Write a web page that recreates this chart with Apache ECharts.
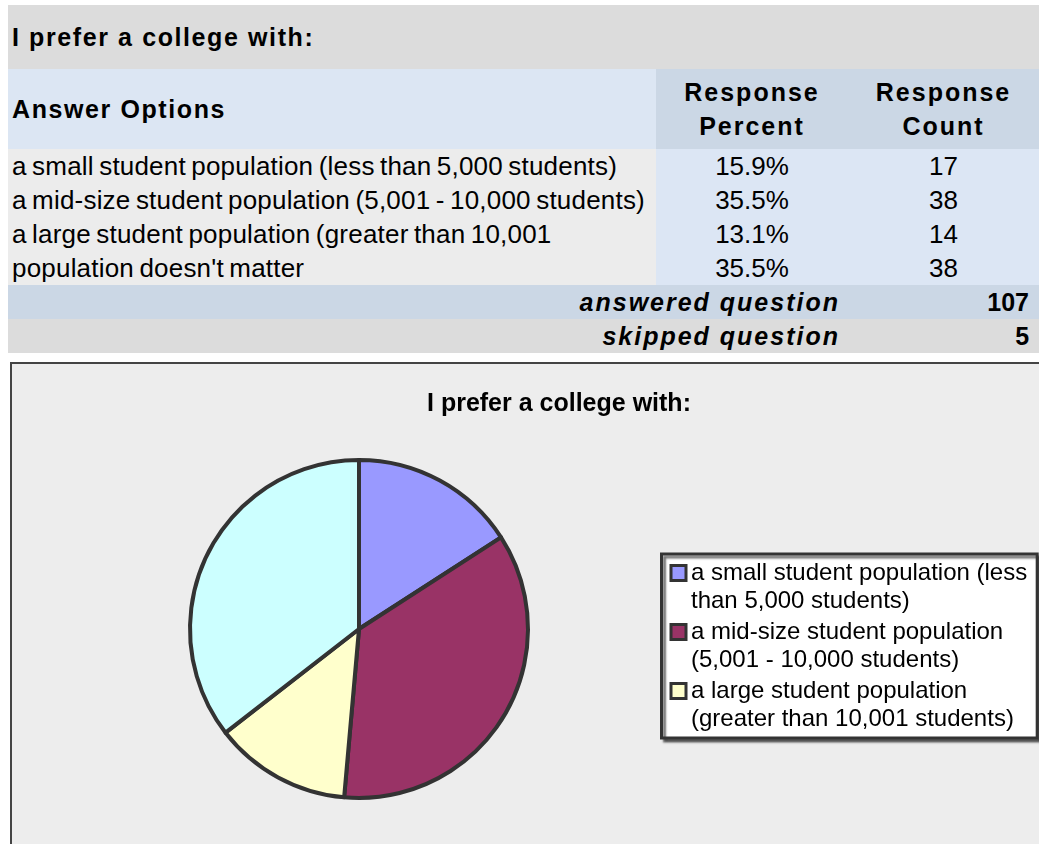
<!DOCTYPE html>
<html>
<head>
<meta charset="utf-8">
<script src="https://cdn.jsdelivr.net/npm/echarts@6/dist/echarts.min.js"></script>
<style>
  html, body { margin: 0; padding: 0; background: #ffffff; width: 1039px; height: 844px; overflow: hidden; }
  body { font-family: "Liberation Sans", Arial, sans-serif; color: #000; position: relative; }
  #survey { position: absolute; left: 8px; top: 5px; border-collapse: collapse; table-layout: fixed; width: 1031px; }
  #survey td { padding: 0; white-space: nowrap; overflow: hidden; }
  .qtitle { background: #dcdcdc; height: 64px; font-weight: bold; font-size: 25px; letter-spacing: 1.6px; padding-left: 4px !important; }
  .hdr1 { background: #dce6f3; height: 80px; font-weight: bold; font-size: 25px; letter-spacing: 1.6px; padding-left: 4px !important; }
  .hdr2 { background: #cbd7e5; font-weight: bold; font-size: 25px; letter-spacing: 2px; text-align: center; line-height: 34px; }
  .opt { background: #ececec; height: 34px; font-size: 26px; letter-spacing: 0.2px; word-spacing: -2px; padding-left: 4px !important; }
  .val { background: #dce6f4; font-size: 26px; text-align: center; }
  .sumlabel { font-weight: bold; font-style: italic; font-size: 25px; letter-spacing: 2px; text-align: right; padding-right: 8px !important; height: 34px; }
  .sumval { font-size: 25px; font-weight: bold; text-align: right; padding-right: 10px !important; }
  .answered td { background: #cbd7e5; }
  .skipped td { background: #dcdcdc; }
  #chartBox { position: absolute; left: 10px; top: 362px; width: 1040px; height: 480px;
              background: #ededed; border-left: 2px solid #444; border-top: 2px solid #444; border-bottom: 2px solid #aaa; }
  #chart { width: 1040px; height: 480px; }
</style>
</head>
<body>
<table id="survey"></table>
<div id="chartBox"><div id="chart"></div></div>
<script>
// Survey question and answer data
const question = 'I prefer a college with:';
const answerOptions = [
  'a small student population (less than 5,000 students)',
  'a mid-size student population (5,001 - 10,000 students)',
  'a large student population (greater than 10,001 students)',
  "population doesn't matter"
];
// Option text as it appears in the narrow table column
const tableLabels = [
  'a small student population (less than 5,000 students)',
  'a mid-size student population (5,001 - 10,000 students)',
  'a large student population (greater than 10,001',
  "population doesn't matter"
];
const responsePercent = ['15.9%', '35.5%', '13.1%', '35.5%'];
const responseCount = [17, 38, 14, 38];
const answeredQuestion = 107;
const skippedQuestion = 5;
const sliceColors = ['#9999ff', '#993366', '#ffffcc', '#ccffff'];
const legendCount = 3; // the legend box only has room for the first three options

// ---- Response table ----
const table = document.getElementById('survey');
let html = '<colgroup><col style="width:648px"><col style="width:192px"><col style="width:191px"></colgroup>';
html += '<tr><td class="qtitle" colspan="3">' + question + '</td></tr>';
html += '<tr><td class="hdr1">Answer Options</td><td class="hdr2">Response<br>Percent</td><td class="hdr2">Response<br>Count</td></tr>';
tableLabels.forEach(function (label, i) {
  html += '<tr><td class="opt">' + label + '</td><td class="val">' + responsePercent[i] +
          '</td><td class="val">' + responseCount[i] + '</td></tr>';
});
html += '<tr class="answered"><td class="sumlabel" colspan="2">answered question</td><td class="sumval">' + answeredQuestion + '</td></tr>';
html += '<tr class="skipped"><td class="sumlabel" colspan="2">skipped question</td><td class="sumval">' + skippedQuestion + '</td></tr>';
table.innerHTML = html;

// ---- Pie chart ----
const legendFont = '24px "Liberation Sans", Arial, sans-serif';
const measureCtx = document.createElement('canvas').getContext('2d');
measureCtx.font = legendFont;
function wrapWords(text, maxWidth) {
  const words = text.split(' ');
  const lines = [];
  let line = '';
  words.forEach(function (w) {
    const test = line ? line + ' ' + w : w;
    if (line && measureCtx.measureText(test).width > maxWidth) {
      lines.push(line);
      line = w;
    } else {
      line = test;
    }
  });
  if (line) lines.push(line);
  return lines;
}

const rich = {
  t: { fontSize: 24, lineHeight: 28, color: '#000', fontFamily: '"Liberation Sans", Arial, sans-serif' },
  sp: { width: 18.5, height: 10 }
};
sliceColors.forEach(function (c, i) {
  rich['m' + i] = { width: 12, height: 12, backgroundColor: c, borderColor: '#333', borderWidth: 3, padding: 0 };
  rich['g' + i] = { width: 6.5, height: 10 };
});

const chart = echarts.init(document.getElementById('chart'), null, { renderer: 'canvas' });
chart.setOption({
  animation: false,
  backgroundColor: 'transparent',
  title: {
    text: question,
    left: 415,
    top: 28,
    padding: 0,
    textStyle: { fontSize: 25, fontWeight: 'bold', color: '#000', fontFamily: '"Liberation Sans", Arial, sans-serif' }
  },
  legend: {
    orient: 'vertical',
    left: 649.5,
    top: 190,
    data: answerOptions.slice(0, legendCount),
    icon: 'none',
    itemWidth: 0,
    itemHeight: 10,
    itemGap: 3,
    selectedMode: false,
    padding: [5, 10, 5, 6],
    backgroundColor: '#ffffff',
    borderColor: '#333',
    borderWidth: 3,
    shadowColor: 'rgba(0,0,0,0.55)',
    shadowBlur: 2,
    shadowOffsetX: 3,
    shadowOffsetY: 3,
    textStyle: { rich: rich, fontSize: 24, lineHeight: 28 },
    formatter: function (name) {
      const i = answerOptions.indexOf(name);
      const lines = wrapWords(name, 342);
      return lines.map(function (ln, k) {
        return (k === 0 ? '{m' + i + '|}{g' + i + '|}' : '{sp|}') + '{t|' + ln + '}';
      }).join('\n');
    }
  },
  series: [{
    type: 'pie',
    center: [347, 265],
    radius: 169,
    startAngle: 90,
    clockwise: true,
    label: { show: false },
    labelLine: { show: false },
    emphasis: { disabled: true },
    itemStyle: { borderColor: '#333', borderWidth: 4 },
    data: answerOptions.map(function (name, i) {
      return { name: name, value: responseCount[i], itemStyle: { color: sliceColors[i] } };
    })
  }]
});
</script>
</body>
</html>
